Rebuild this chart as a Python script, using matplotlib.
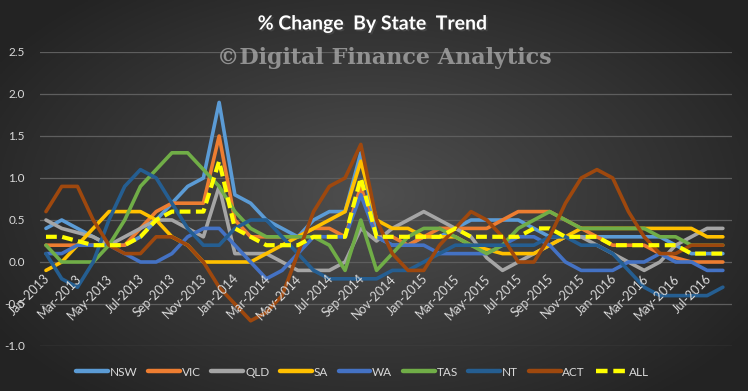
import matplotlib
matplotlib.use("Agg")
import matplotlib.pyplot as plt
import matplotlib.patheffects as pe
import numpy as np
import pandas as pd

# monthly categories Jan-2013 .. Aug-2016
months = pd.date_range("2013-01-01", periods=44, freq="MS").strftime("%b-%Y").tolist()

nsw = [0.4, 0.5, 0.4, 0.3, 0.2, 0.2, 0.3, 0.5, 0.7, 0.9, 1.0, 1.9, 0.8, 0.7, 0.5, 0.4, 0.3, 0.5, 0.6, 0.6,
       1.3, 0.3, 0.2, 0.2, 0.3, 0.3, 0.4, 0.5, 0.5, 0.5, 0.5, 0.4, 0.3, 0.3, 0.3, 0.3, 0.3, 0.3, 0.3, 0.3,
       0.2, 0.1, 0.1, 0.1]
vic = [0.2, 0.2, 0.2, 0.2, 0.2, 0.2, 0.4, 0.6, 0.7, 0.7, 0.7, 1.5, 0.5, 0.3, 0.3, 0.3, 0.3, 0.4, 0.4, 0.3,
       0.9, 0.3, 0.3, 0.2, 0.3, 0.4, 0.4, 0.4, 0.4, 0.5, 0.6, 0.6, 0.6, 0.5, 0.4, 0.3, 0.2, 0.2, 0.2, 0.1,
       0.05, 0.0, 0.0, 0.0]
qld = [0.5, 0.4, 0.35, 0.3, 0.2, 0.3, 0.4, 0.5, 0.5, 0.4, 0.3, 0.9, 0.1, 0.1, 0.1, 0.0, -0.1, -0.1, -0.1, 0.0,
       0.4, 0.25, 0.4, 0.5, 0.6, 0.5, 0.4, 0.3, 0.05, -0.1, 0.0, 0.1, 0.2, 0.3, 0.3, 0.2, 0.1, 0.0, -0.1, 0.0,
       0.2, 0.3, 0.4, 0.4]
sa = [-0.1, 0.0, 0.2, 0.4, 0.6, 0.6, 0.6, 0.5, 0.3, 0.2, 0.0, 0.0, 0.0, 0.0, 0.1, 0.2, 0.3, 0.4, 0.5, 0.6,
      1.2, 0.5, 0.4, 0.4, 0.3, 0.3, 0.3, 0.2, 0.15, 0.1, 0.1, 0.1, 0.2, 0.3, 0.4, 0.4, 0.4, 0.4, 0.4, 0.4,
      0.4, 0.4, 0.3, 0.3]
wa = [0.1, 0.1, 0.2, 0.2, 0.2, 0.1, 0.0, 0.0, 0.1, 0.3, 0.4, 0.4, 0.2, 0.0, -0.2, -0.1, 0.1, 0.3, 0.3, 0.3,
      0.8, 0.3, 0.2, 0.2, 0.2, 0.1, 0.1, 0.1, 0.1, 0.2, 0.3, 0.3, 0.2, 0.0, -0.1, -0.1, -0.1, 0.0, 0.0, 0.1,
      0.0, 0.0, -0.1, -0.1]
tas = [0.2, 0.0, 0.0, 0.0, 0.2, 0.5, 0.9, 1.1, 1.3, 1.3, 1.1, 0.9, 0.6, 0.4, 0.3, 0.3, 0.3, 0.3, 0.2, -0.1,
       0.5, -0.1, 0.1, 0.3, 0.4, 0.4, 0.3, 0.2, 0.1, 0.2, 0.4, 0.5, 0.6, 0.5, 0.4, 0.4, 0.4, 0.4, 0.4, 0.3,
       0.3, 0.2, 0.2, 0.2]
nt = [0.1, -0.2, -0.3, 0.0, 0.5, 0.9, 1.1, 1.0, 0.7, 0.4, 0.2, 0.2, 0.4, 0.5, 0.5, 0.3, 0.1, -0.1, -0.2, -0.2,
      -0.2, -0.2, -0.1, -0.1, 0.0, 0.1, 0.2, 0.2, 0.2, 0.2, 0.2, 0.2, 0.3, 0.3, 0.2, 0.2, 0.1, -0.1, -0.3, -0.4,
      -0.4, -0.4, -0.4, -0.3]
act = [0.6, 0.9, 0.9, 0.5, 0.2, 0.1, 0.1, 0.3, 0.3, 0.2, 0.0, -0.3, -0.5, -0.7, -0.6, -0.4, 0.1, 0.6, 0.9, 1.0,
       1.4, 0.5, 0.1, -0.1, -0.1, 0.2, 0.4, 0.6, 0.5, 0.3, 0.0, 0.0, 0.3, 0.7, 1.0, 1.1, 1.0, 0.6, 0.3, 0.1,
       0.1, 0.2, 0.2, 0.2]
all_states = [0.3, 0.3, 0.25, 0.2, 0.2, 0.2, 0.3, 0.5, 0.6, 0.6, 0.6, 1.2, 0.4, 0.3, 0.2, 0.2, 0.2, 0.3, 0.3, 0.3,
              1.0, 0.3, 0.3, 0.3, 0.3, 0.3, 0.4, 0.3, 0.3, 0.3, 0.3, 0.4, 0.4, 0.3, 0.3, 0.3, 0.2, 0.2, 0.2, 0.2,
              0.2, 0.1, 0.1, 0.1]

series = [("NSW", nsw, "#5B9BD5"), ("VIC", vic, "#ED7D31"), ("QLD", qld, "#A5A5A5"),
          ("SA", sa, "#FFC000"), ("WA", wa, "#4472C4"), ("TAS", tas, "#70AD47"),
          ("NT", nt, "#255E91"), ("ACT", act, "#9E480E")]

txt = "#d9d9d9"
fig = plt.figure(figsize=(7.48, 3.91), dpi=100)

# dark radial gradient background
bg = fig.add_axes([0, 0, 1, 1], zorder=-10)
gx, gy = np.meshgrid(np.linspace(-1, 1, 400), np.linspace(-1, 1, 220))
r = np.clip(np.sqrt((gx * 0.85) ** 2 + (gy * 0.75) ** 2), 0, 1)
shade = 0.31 - 0.17 * r
bg.imshow(np.dstack([shade, shade, shade]), aspect="auto", extent=[0, 1, 0, 1])
bg.axis("off")

ax = fig.add_axes([40 / 748, 45 / 391, 692 / 748, 294 / 391])
ax.set_facecolor("none")
x = np.arange(len(months))

for name, vals, col in series:
    ax.plot(x, vals, color=col, lw=2.6, label=name, solid_joinstyle="round",
            solid_capstyle="round")
ax.plot(x, all_states, color="#FFFF00", lw=3, ls=(0, (2.6, 1.3)), label="ALL")

ax.set_xlim(-0.38, 43.58)
ax.set_ylim(-1.0, 2.5)
ax.set_yticks(np.arange(-1.0, 2.51, 0.5))
ax.set_yticklabels([f"{v:.1f}" for v in np.arange(-1.0, 2.51, 0.5)])
ax.grid(axis="y", color="#5e5e5e", lw=0.9)
ax.set_axisbelow(True)
for s in ax.spines.values():
    s.set_visible(False)
ax.tick_params(axis="y", length=0, pad=11, labelcolor=txt, labelsize=8.5)
ax.set_xticks([])
for label in ax.get_yticklabels():
    label.set_fontfamily("Lato")

# category labels sit next to the zero line, rotated like Excel
for i in range(0, len(months), 2):
    ax.annotate(months[i], xy=(i, 0), xytext=(1.5, -10.5), textcoords="offset points",
                rotation=45, ha="right", va="center", rotation_mode="anchor",
                color=txt, fontsize=9, family="Lato")

fig.text(0.499, 1 - 24 / 391, "% Change  By State  Trend", ha="center", va="center",
         color="white", fontsize=14, fontweight="bold", family="Lato",
         path_effects=[pe.SimplePatchShadow(offset=(1.2, -1.2), alpha=0.7), pe.Normal()])
fig.text(0.514, 1 - 58 / 391, "\u00a9Digital Finance Analytics", ha="center", va="center",
         color="#a8a8a8", alpha=0.8, fontsize=16, fontweight="bold", family="DejaVu Serif")

leg = fig.legend(loc="center", bbox_to_anchor=(0.485, 1 - 372 / 391), ncol=9, frameon=False,
                 handlelength=2.7, handletextpad=0.15, columnspacing=0.9,
                 prop={"family": "Lato", "size": 8.5})
for t in leg.get_texts():
    t.set_color(txt)
for h in leg.get_lines():
    h.set_linewidth(3.2)

fig.savefig("out.png", dpi=100)
